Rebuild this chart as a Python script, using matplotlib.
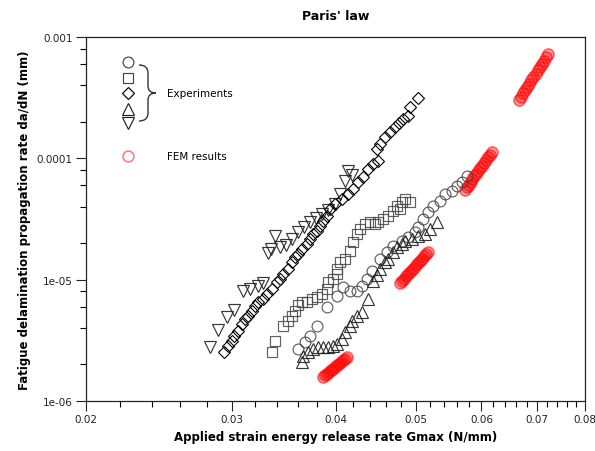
import numpy as np
import matplotlib
matplotlib.use('Agg')
from matplotlib import pyplot as plt
from matplotlib.path import Path
from matplotlib.patches import PathPatch
from matplotlib.ticker import FixedLocator, FixedFormatter, NullFormatter

# experiments, G in N/mm and da/dN in mm
circ_g = [0.03604, 0.03674, 0.03726, 0.03799, 0.03906, 0.04015, 0.04083, 0.04163, 0.04245, 0.04304,
          0.04364, 0.04426, 0.04525, 0.04613, 0.04691, 0.04810, 0.04890, 0.04986, 0.05028, 0.05098,
          0.05169, 0.05242, 0.05344, 0.05419, 0.05525, 0.05602, 0.05681, 0.05760]
circ_r = [2.68e-6, 3.06e-6, 3.43e-6, 4.15e-6, 5.95e-6, 7.33e-6, 8.70e-6, 8.06e-6, 8.06e-6, 8.87e-6,
          1.01e-5, 1.18e-5, 1.48e-5, 1.69e-5, 1.89e-5, 2.08e-5, 2.25e-5, 2.47e-5, 2.72e-5, 3.16e-5,
          3.61e-5, 4.05e-5, 4.45e-5, 5.08e-5, 5.38e-5, 5.92e-5, 6.38e-5, 7.16e-5]

sq_g = [0.03353, 0.03381, 0.03457, 0.03505, 0.03545, 0.03574, 0.03604, 0.03644, 0.03695, 0.03747,
        0.03799, 0.03852, 0.03906, 0.03916, 0.03971, 0.04015, 0.04015, 0.04049, 0.04106, 0.04163,
        0.04198, 0.04245, 0.04280, 0.04340, 0.04401, 0.04462, 0.04500, 0.04563, 0.04626, 0.04691,
        0.04743, 0.04783, 0.04810, 0.04850, 0.04917]
sq_r = [2.52e-6, 3.12e-6, 4.15e-6, 4.56e-6, 5.02e-6, 5.52e-6, 6.18e-6, 6.55e-6, 6.55e-6, 6.92e-6,
        7.20e-6, 7.61e-6, 8.37e-6, 9.57e-6, 1.01e-5, 1.11e-5, 1.22e-5, 1.40e-5, 1.48e-5, 1.72e-5,
        2.04e-5, 2.38e-5, 2.62e-5, 2.88e-5, 2.99e-5, 2.88e-5, 2.99e-5, 3.16e-5, 3.35e-5, 3.68e-5,
        4.05e-5, 3.82e-5, 4.37e-5, 4.62e-5, 4.37e-5]

dia_g = [0.02935, 0.02967, 0.03001, 0.03017, 0.03051, 0.03085, 0.03111, 0.03137, 0.03172, 0.03198,
         0.03225, 0.03270, 0.03306, 0.03353, 0.03400, 0.03428, 0.03457, 0.03505, 0.03545, 0.03574,
         0.03604, 0.03644, 0.03695, 0.03726, 0.03757, 0.03799, 0.03831, 0.03863, 0.03906, 0.03938,
         0.03993, 0.04072, 0.04140, 0.04198, 0.04256, 0.04316, 0.04376, 0.04438, 0.04500, 0.04487,
         0.04525, 0.04588, 0.04652, 0.04717, 0.04770, 0.04823, 0.04890, 0.04917, 0.05028]
dia_r = [2.52e-6, 2.84e-6, 3.12e-6, 3.43e-6, 3.77e-6, 4.31e-6, 4.74e-6, 5.02e-6, 5.52e-6, 6.07e-6,
         6.55e-6, 6.92e-6, 7.61e-6, 8.37e-6, 9.57e-6, 1.01e-5, 1.11e-5, 1.22e-5, 1.40e-5, 1.54e-5,
         1.63e-5, 1.79e-5, 1.97e-5, 2.16e-5, 2.38e-5, 2.52e-5, 2.77e-5, 3.05e-5, 3.35e-5, 3.82e-5,
         4.20e-5, 4.62e-5, 5.08e-5, 5.59e-5, 6.38e-5, 7.02e-5, 8.17e-5, 8.98e-5, 9.51e-5, 1.195e-4,
         1.31e-4, 1.50e-4, 1.65e-4, 1.81e-4, 1.96e-4, 2.11e-4, 2.24e-4, 2.65e-4, 3.14e-4]

up_g = [0.03644, 0.03654, 0.03705, 0.03757, 0.03810, 0.03863, 0.03916, 0.03971, 0.04015, 0.04072,
        0.04106, 0.04163, 0.04186, 0.04245, 0.04304, 0.04376, 0.04438, 0.04487, 0.04525, 0.04588,
        0.04626, 0.04691, 0.04743, 0.04810, 0.04850, 0.04945, 0.05028, 0.05126, 0.05198, 0.05300]
up_r = [2.10e-6, 2.35e-6, 2.52e-6, 2.68e-6, 2.79e-6, 2.79e-6, 2.79e-6, 2.84e-6, 2.95e-6, 3.23e-6,
        3.72e-6, 4.15e-6, 4.56e-6, 5.02e-6, 5.41e-6, 6.92e-6, 9.74e-6, 1.10e-5, 1.22e-5, 1.40e-5,
        1.48e-5, 1.69e-5, 1.86e-5, 1.97e-5, 2.08e-5, 2.16e-5, 2.29e-5, 2.38e-5, 2.62e-5, 2.99e-5]

down_g = [0.02823, 0.02886, 0.02959, 0.03017, 0.03094, 0.03154, 0.03225, 0.03270, 0.03316, 0.03343,
          0.03381, 0.03428, 0.03486, 0.03545, 0.03604, 0.03664, 0.03726, 0.03789, 0.03852, 0.03916,
          0.03993, 0.04049, 0.04106, 0.04140, 0.04186]
down_r = [2.79e-6, 3.84e-6, 4.92e-6, 5.62e-6, 8.06e-6, 8.37e-6, 8.87e-6, 9.39e-6, 1.66e-5, 1.79e-5,
          2.29e-5, 1.86e-5, 1.93e-5, 2.16e-5, 2.47e-5, 2.72e-5, 2.99e-5, 3.22e-5, 3.48e-5, 3.75e-5,
          4.20e-5, 5.08e-5, 6.51e-5, 7.87e-5, 7.29e-5]

# FEM results
fem_g = [0.03863, 0.03884, 0.03906, 0.03927, 0.03949, 0.03971, 0.03993, 0.04015, 0.04038, 0.04060,
         0.04083, 0.04106, 0.04129,
         0.04783, 0.04810, 0.04837, 0.04863, 0.04890, 0.04917, 0.04945, 0.04972, 0.05000, 0.05028,
         0.05056, 0.05084, 0.05112, 0.05140, 0.05169,
         0.05728, 0.05758, 0.05791, 0.05821, 0.05852, 0.05883, 0.05916, 0.05947, 0.05979, 0.06012,
         0.06044, 0.06076, 0.06108, 0.06142, 0.06174,
         0.06658, 0.06697, 0.06735, 0.06774, 0.06814, 0.06854, 0.06892, 0.06932, 0.06973, 0.07011,
         0.07052, 0.07094, 0.07135, 0.07175, 0.07216]
fem_r = [1.575e-6, 1.636e-6, 1.684e-6, 1.733e-6, 1.797e-6, 1.851e-6, 1.905e-6, 1.978e-6, 2.035e-6, 2.096e-6,
         2.173e-6, 2.237e-6, 2.301e-6,
         9.39e-6, 9.78e-6, 1.019e-5, 1.062e-5, 1.110e-5, 1.158e-5, 1.207e-5, 1.258e-5, 1.312e-5, 1.368e-5,
         1.426e-5, 1.490e-5, 1.553e-5, 1.620e-5, 1.689e-5,
         5.48e-5, 5.77e-5, 6.07e-5, 6.39e-5, 6.74e-5, 7.09e-5, 7.46e-5, 7.86e-5, 8.27e-5, 8.71e-5,
         9.16e-5, 9.67e-5, 1.017e-4, 1.071e-4, 1.127e-4,
         3.02e-4, 3.22e-4, 3.43e-4, 3.65e-4, 3.88e-4, 4.13e-4, 4.40e-4, 4.68e-4, 4.98e-4, 5.31e-4,
         5.65e-4, 6.00e-4, 6.39e-4, 6.80e-4, 7.24e-4]

x_ticks = [0.02, 0.03, 0.04, 0.05, 0.06, 0.07, 0.08]
x_labels = ['0.02', '0.03', '0.04', '0.05', '0.06', '0.07', '0.08']
y_ticks = [1e-6, 1e-5, 1e-4, 1e-3]
y_labels = ['1e-06', '1e-05', '0.0001', '0.001']

W, H = 595, 452
fig = plt.figure(figsize=(W / 100, H / 100), dpi=100)
L, R, T, B = 86, 585, 38, 402
ax = fig.add_axes([L / W, 1 - B / H, (R - L) / W, (B - T) / H])
ax.set_xscale('log')
ax.set_yscale('log')
ax.set_xlim(0.02, 0.08)
ax.set_ylim(1e-6, 1e-3)

gray = '#444444'
ax.plot(fem_g, fem_r, 'o', ms=8, mfc=(1, 0, 0, 0.35), mec=(1, 0, 0, 0.55), mew=1.2)
ax.plot(circ_g, circ_r, 'o', ms=7.8, mfc='none', mec=gray, mew=0.85, alpha=0.85)
ax.plot(sq_g, sq_r, 's', ms=7.2, mfc='none', mec=gray, mew=0.85, alpha=0.85)
ax.plot(up_g, up_r, '^', ms=8.3, mfc='none', mec='#222222', mew=0.85, alpha=0.9)
ax.plot(down_g, down_r, 'v', ms=8.3, mfc='none', mec='#222222', mew=0.85, alpha=0.9)
ax.plot(dia_g, dia_r, 'D', ms=6.5, mfc='none', mec='black', mew=0.8)

# ticks
ax.xaxis.set_major_locator(FixedLocator(x_ticks))
ax.xaxis.set_major_formatter(FixedFormatter(x_labels))
ax.xaxis.set_minor_locator(FixedLocator([0.02 + 0.002 * i for i in range(1, 30) if i % 5]))
ax.xaxis.set_minor_formatter(NullFormatter())
ax.yaxis.set_major_locator(FixedLocator(y_ticks))
ax.yaxis.set_major_formatter(FixedFormatter(y_labels))
ax.yaxis.set_minor_locator(FixedLocator([m * 10.0 ** e for e in (-6, -5, -4) for m in (2, 4, 6, 8)]))
ax.yaxis.set_minor_formatter(NullFormatter())
ax.tick_params(which='major', direction='out', length=7.5, width=0.8, labelsize=7.5,
               colors='#222222', pad=2, top=False, right=False)
ax.tick_params(which='minor', direction='out', length=4.3, width=0.8, top=False, right=False)
for s in ax.spines.values():
    s.set_linewidth(0.9)
    s.set_color('#222222')

ax.set_title("Paris' law", fontsize=9, fontweight='bold', pad=13)
ax.set_xlabel('Applied strain energy release rate Gmax (N/mm)', fontsize=8.5, fontweight='bold', labelpad=4)
ax.set_ylabel('Fatigue delamination propagation rate da/dN (mm)', fontsize=8.5, fontweight='bold', labelpad=4)


# legend drawn by hand (pixel positions -> axes fraction)
def af(px, py):
    return (px - L) / (R - L), (B - py) / (B - T)


for mk, py, ms, mc in [('o', 63, 7.8, gray), ('s', 79, 7.2, gray), ('D', 94, 6.5, 'black'),
                       ('^', 110, 8.3, '#222222'), ('v', 124, 8.3, '#222222')]:
    ax.plot(*af(128, py), mk, ms=ms, mfc='none', mec=mc, mew=0.85, transform=ax.transAxes)
ax.plot(*af(128, 157), 'o', ms=7.8, mfc='none', mec=(1, 0, 0, 0.5), mew=1.2, transform=ax.transAxes)

verts = [(139, 66), (148, 66), (148, 74), (148, 87), (148, 94), (156, 94),
         (148, 94), (148, 101), (148, 114), (148, 122), (139, 122)]
codes = [Path.MOVETO, Path.CURVE3, Path.CURVE3, Path.LINETO, Path.CURVE3, Path.CURVE3,
         Path.CURVE3, Path.CURVE3, Path.LINETO, Path.CURVE3, Path.CURVE3]
brace = Path([af(*v) for v in verts], codes)
ax.add_patch(PathPatch(brace, fc='none', ec='#333333', lw=1.0, transform=ax.transAxes))

ax.text(*af(167, 94), 'Experiments', fontsize=7.5, va='center', ha='left', transform=ax.transAxes)
ax.text(*af(167, 157), 'FEM results', fontsize=7.5, va='center', ha='left', transform=ax.transAxes)

fig.savefig('out.png', dpi=100)
